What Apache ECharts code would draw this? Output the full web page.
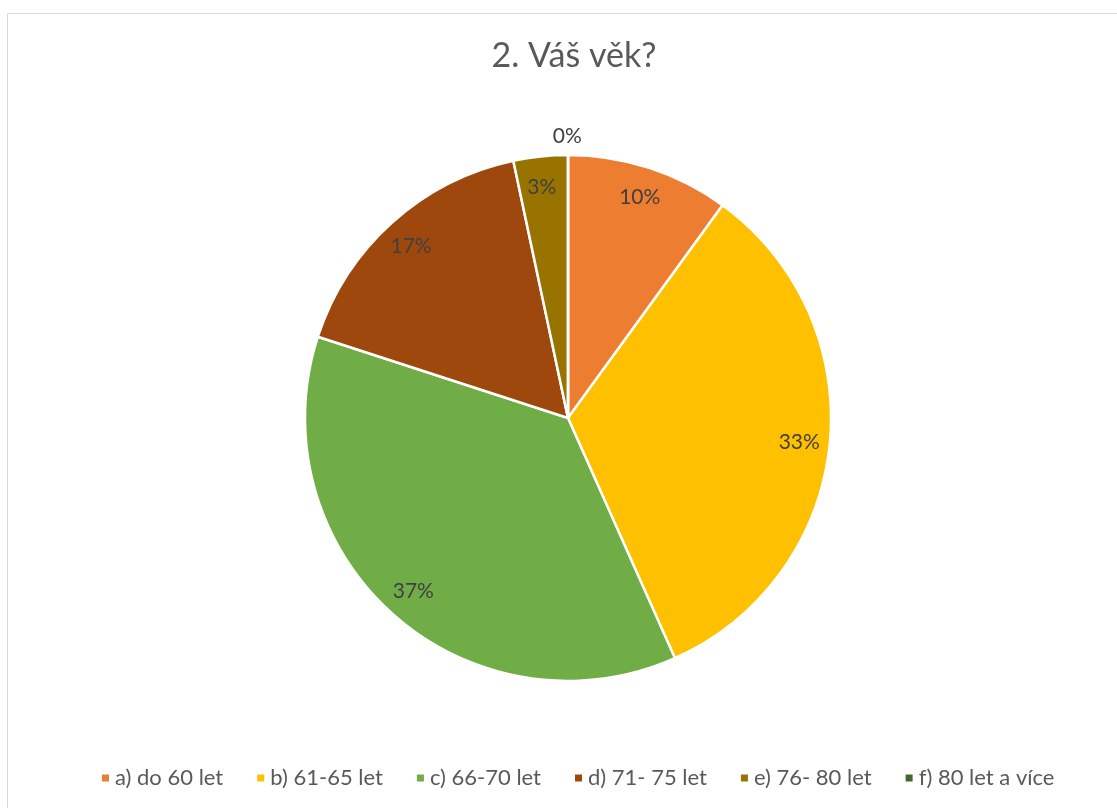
<!DOCTYPE html>
<html lang="cs">
<head>
<meta charset="utf-8">
<script src="https://cdn.jsdelivr.net/npm/echarts@6/dist/echarts.min.js"></script>
<style>
  html, body { margin: 0; padding: 0; background: #fff; }
  #chartMain { width: 1117px; height: 808px; }
</style>
</head>
<body>
<div id="chartMain"></div>
<script>
    // odpovedi na otazku 2 (pocet respondentu)
    var categories = ['a) do 60 let', 'b) 61-65 let', 'c) 66-70 let', 'd) 71- 75 let', 'e) 76- 80 let', 'f) 80 let a více'];
    var counts = [3, 10, 11, 5, 1, 0];
    var colors = ['#ED7D31', '#FFC000', '#70AD47', '#9E480E', '#997300', '#43682B'];

    var font = 'Lato, "Open Sans", "Noto Sans", sans-serif';

    var pieData = categories.map(function (name, i) {
        return { name: name, value: counts[i] };
    });
    // ta sama data jen pro popisky, nula venku nad kolacem
    var labelData = categories.map(function (name, i) {
        var item = { name: name, value: counts[i] };
        if (counts[i] === 0) {
            item.label = { position: 'outside', distanceToLabelLine: -15 };
            item.labelLine = { show: false, length: 19, length2: 0 };
        }
        return item;
    });

    var myChart = echarts.init(document.getElementById('chartMain'));

    myChart.setOption({
        color: colors,
        animation: false,
        title: {
            text: '2. Váš věk?',
            left: 569,
            textAlign: 'center',
            top: 34,
            textStyle: { fontFamily: font, fontSize: 34, fontWeight: 'normal', color: '#595959' }
        },
        graphic: [{
            type: 'rect',
            shape: { x: 7.5, y: 13.5, width: 1200, height: 900 },
            style: { fill: 'none', stroke: '#d9d9d9', lineWidth: 1 },
            silent: true
        }],
        legend: {
            bottom: 14,
            left: 95,
            icon: 'rect',
            itemWidth: 9,
            itemHeight: 9,
            itemGap: 32,
            data: categories,
            textStyle: { fontFamily: font, fontSize: 22, color: '#595959' }
        },
        series: [
            {
                type: 'pie',
                name: 'vek',
                center: [568, 418],
                radius: [0, 263],
                startAngle: 90,
                clockwise: true,
                percentPrecision: 0,
                silent: true,
                itemStyle: { borderColor: '#fff', borderWidth: 2.5 },
                label: { show: false },
                labelLine: { show: false },
                data: pieData
            },
            {
                type: 'pie',
                name: 'popisky',
                center: [568, 418],
                radius: [196, 263],
                startAngle: 90,
                clockwise: true,
                minAngle: 0.5,
                percentPrecision: 0,
                silent: true,
                avoidLabelOverlap: false,
                itemStyle: { color: 'rgba(0,0,0,0)' },
                label: {
                    show: true,
                    position: 'inside',
                    formatter: '{d}%',
                    fontFamily: font,
                    fontSize: 21,
                    color: '#404040'
                },
                labelLine: { show: false },
                data: labelData
            }
        ]
    });
</script>
</body>
</html>
